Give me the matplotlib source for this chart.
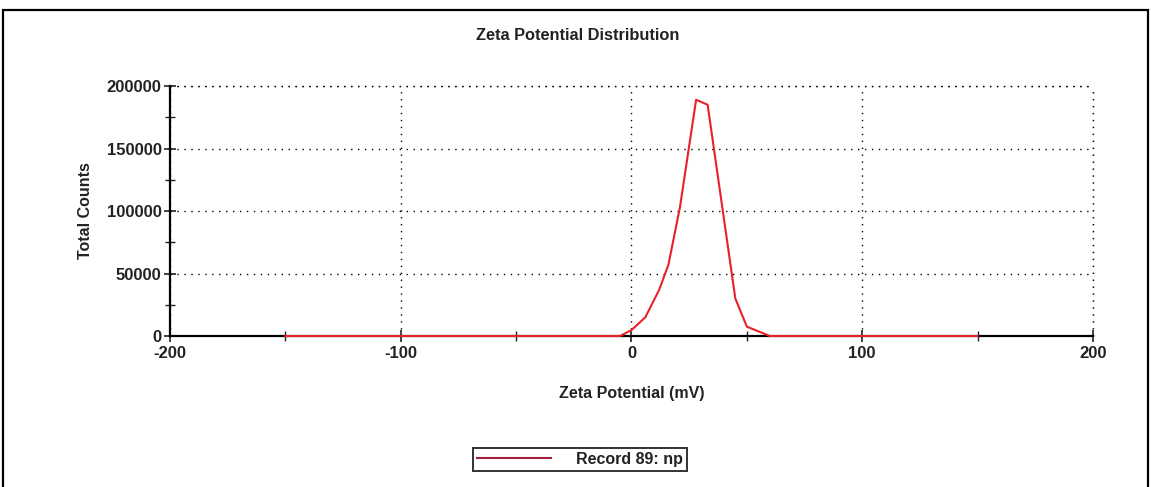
import matplotlib.pyplot as plt
from matplotlib.patches import Rectangle
from matplotlib.ticker import MultipleLocator

zeta_mv = [-150, -5, 0, 6, 12, 16, 21, 28, 33, 45, 50, 60, 150]
total_counts = [0, 0, 4800, 15000, 37000, 57000, 103000, 189000, 185000, 30000, 7500, 0, 0]
x_ticks = [-200, -100, 0, 100, 200]
y_ticks = [0, 50000, 100000, 150000, 200000]
series_name = "Record 89: np"

plt.rcParams['font.family'] = ['Liberation Sans', 'DejaVu Sans']
plt.rcParams['font.weight'] = 'bold'
plt.rcParams['axes.labelweight'] = 'bold'
plt.rcParams['axes.unicode_minus'] = False

fig = plt.figure(figsize=(11.51, 4.87), dpi=100)
ax = fig.add_axes([0.1477, 0.310, 0.8019, 0.5134])

line, = ax.plot(zeta_mv, total_counts, color='#e8202a', lw=1.5, zorder=5, clip_on=False)

ax.set_xlim(-200, 200)
ax.set_ylim(0, 200000)
ax.set_xticks(x_ticks)
ax.set_yticks(y_ticks)
ax.xaxis.set_minor_locator(MultipleLocator(50))
ax.yaxis.set_minor_locator(MultipleLocator(25000))
ax.tick_params(which='major', direction='inout', length=8, width=1.2, labelsize=12, colors='#222222')
ax.tick_params(which='minor', direction='inout', length=7, width=1.0, colors='#222222')
ax.tick_params(axis='x', pad=3)
ax.tick_params(axis='y', pad=2)

ax.spines['top'].set_visible(False)
ax.spines['right'].set_visible(False)
ax.spines['left'].set_linewidth(1.6)
ax.spines['bottom'].set_linewidth(1.6)

ax.grid(True, which='major', linestyle=(0, (1, 4)), color='black', lw=1.0)
# grid lines at the max of each axis (top and right edge)
ax.axhline(200000, linestyle=(0, (1, 4)), color='black', lw=1.0, clip_on=False)
ax.axvline(200, linestyle=(0, (1, 4)), color='black', lw=1.0, clip_on=False)

fig.text(0.502, 1 - 35 / 487, "Zeta Potential Distribution", fontsize=11.8, ha='center', va='center',
         color='#222222')
ax.set_xlabel("Zeta Potential (mV)", fontsize=11.5, labelpad=18, color='#222222')
ax.set_ylabel("Total Counts", fontsize=11.5, labelpad=10, color='#222222')

leg = fig.legend([line], [series_name], loc='center', bbox_to_anchor=(0.504, 0.057),
                 frameon=True, fancybox=False, fontsize=11.5, handlelength=4.6,
                 borderpad=0.25, borderaxespad=0.0, handletextpad=1.6, markerfirst=True)
leg.get_frame().set_edgecolor('black')
leg.get_frame().set_linewidth(1.4)
leg.get_lines()[0].set_color('#a0203a')
for t in leg.get_texts():
    t.set_color('#222222')

fig.patches.append(Rectangle((0.003, -0.05), 0.994, 1.03, transform=fig.transFigure,
                             fill=False, edgecolor='black', lw=1.6))

fig.savefig('out.png', dpi=100)
